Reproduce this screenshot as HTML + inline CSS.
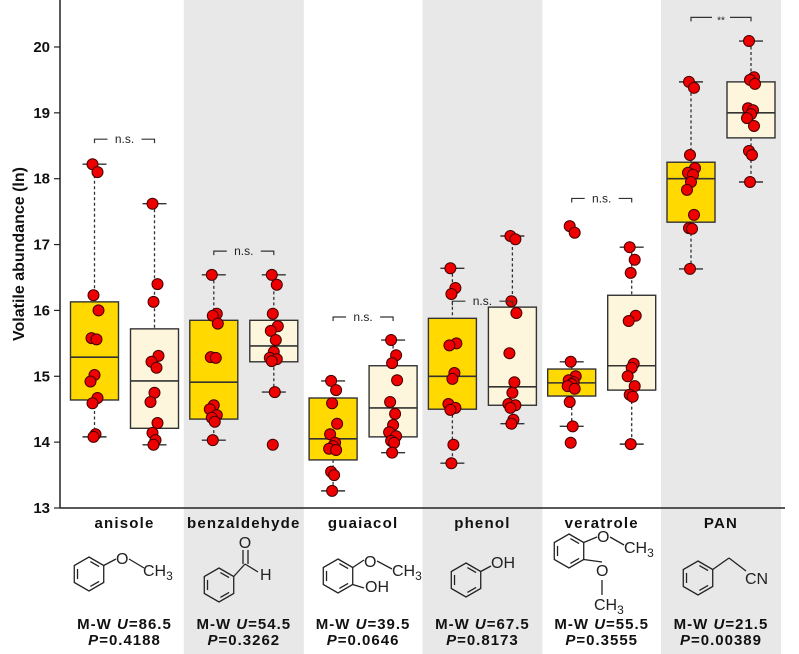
<!DOCTYPE html>
<html><head><meta charset="utf-8">
<style>
html,body{margin:0;padding:0;background:#fff;}
svg{display:block;font-family:"Liberation Sans",Arial,sans-serif;}
</style></head>
<body>
<svg id="chart" width="799" height="654" viewBox="0 0 799 654" xmlns="http://www.w3.org/2000/svg">
<g id="bands"></g>
<g id="structs"></g>
<g id="plot"></g>
</svg>
<script>
const categories = ["anisole","benzaldehyde","guaiacol","phenol","veratrole","PAN"];
const yTicks = [13,14,15,16,17,18,19,20];
// box stats per group: [whiskerLow, q1, median, q3, whiskerHigh]
const statsA = [
 [14.08,14.64,15.29,16.13,18.22],
 [14.03,14.35,14.91,15.85,16.54],
 [13.26,13.73,14.05,14.67,14.93],
 [13.68,14.50,15.00,15.88,16.64],
 [14.24,14.70,14.90,15.11,15.22],
 [16.63,17.34,18.00,18.25,19.47]
];
const statsB = [
 [13.96,14.21,14.93,15.72,17.62],
 [14.76,15.22,15.46,15.85,16.54],
 [13.84,14.08,14.52,15.16,15.55],
 [14.28,14.56,14.84,16.05,17.13],
 [13.97,14.79,15.16,16.23,16.96],
 [17.95,18.62,19.00,19.47,20.09]
];
const pointsA = [
 [18.22,18.1,16.23,16.0,15.58,15.56,15.02,14.92,14.67,14.59,14.12,14.08],
 [16.54,15.95,15.92,15.8,15.29,15.28,14.56,14.5,14.41,14.37,14.31,14.03],
 [14.93,14.79,14.59,14.28,14.12,13.99,13.94,13.9,13.88,13.55,13.5,13.26],
 [16.64,16.34,16.25,15.5,15.47,15.05,14.96,14.58,14.52,14.49,13.96,13.68],
 [17.28,17.18,15.22,15.0,14.94,14.91,14.88,14.85,14.81,14.61,14.24,13.99],
 [19.47,19.38,18.36,18.16,18.09,18.06,17.95,17.83,17.45,17.25,17.24,16.63]
];
const pointsB = [
 [17.62,16.4,16.13,15.31,15.22,15.13,14.75,14.61,14.29,14.14,14.03,13.96],
 [16.54,16.39,15.95,15.76,15.69,15.55,15.37,15.28,15.26,15.23,14.76,13.96],
 [15.55,15.32,15.2,14.94,14.61,14.43,14.26,14.15,14.09,14.02,13.99,13.84],
 [17.13,17.08,16.14,15.96,15.35,14.91,14.75,14.58,14.56,14.52,14.34,14.28],
 [16.96,16.77,16.57,15.92,15.84,15.19,15.13,15.0,14.85,14.72,14.69,13.97],
 [20.09,19.54,19.5,19.44,19.07,19.04,18.98,18.92,18.8,18.42,18.36,17.95]
];
const sigLabels = ["n.s.","n.s.","n.s.","n.s.","n.s.","**"];
const sigLevels = [18.6,16.9,15.9,16.14,17.7,20.45];
const uValues = ["86.5","54.5","39.5","67.5","55.5","21.5"];
const pValues = ["0.4188","0.3262","0.0646","0.8173","0.3555","0.00389"];

const NS="http://www.w3.org/2000/svg";
function mk(tag,attrs,parent){const e=document.createElementNS(NS,tag);for(const k in attrs)e.setAttribute(k,attrs[k]);parent.appendChild(e);return e;}
const y=v=>508-(v-13)*65.86;
const gw=119.3;
const cx=i=>124.5+i*gw;
const bands=document.getElementById('bands');
const plot=document.getElementById('plot');
const structs=document.getElementById('structs');

categories.forEach((c,i)=>{ if(i%2===1){
  const r=mk('rect',{x:cx(i)-60,y:0,width:120,height:654,fill:'#e8e8e8'},bands);
  
  
}});

const ya=mk('line',{x1:60,y1:0,x2:60,y2:508,stroke:'#222','stroke-width':1.5},plot);


const xa=mk('line',{x1:60,y1:508,x2:785,y2:508,stroke:'#222','stroke-width':1.5},plot);


yTicks.forEach(t=>{
  mk('line',{x1:54,y1:y(t),x2:60,y2:y(t),stroke:'#222','stroke-width':1.2},plot);
  const tx=mk('text',{x:50,y:y(t)+5,'text-anchor':'end','font-size':15,'font-weight':'bold',fill:'#111'},plot);
  tx.textContent=t;
  
  
});
const yt=mk('text',{x:0,y:0,transform:'translate(24,254) rotate(-90)','text-anchor':'middle','font-size':16,'font-weight':'bold',fill:'#111'},plot);
yt.textContent='Volatile abundance (ln)';



const jit=[-2,3,-1,4,-3,2,0,-4,3,-2,1,-1];
function drawBox(x,s,pts,fill,name){
  const g=mk('g',{},plot);
  
  
  mk('line',{x1:x,y1:y(s[4]),x2:x,y2:y(s[3]),stroke:'#333','stroke-width':1.3,'stroke-dasharray':'3,2.5'},g);
  mk('line',{x1:x,y1:y(s[1]),x2:x,y2:y(s[0]),stroke:'#333','stroke-width':1.3,'stroke-dasharray':'3,2.5'},g);
  mk('line',{x1:x-12,y1:y(s[4]),x2:x+12,y2:y(s[4]),stroke:'#333','stroke-width':1.4},g);
  mk('line',{x1:x-12,y1:y(s[0]),x2:x+12,y2:y(s[0]),stroke:'#333','stroke-width':1.4},g);
  mk('rect',{x:x-24,y:y(s[3]),width:48,height:y(s[1])-y(s[3]),fill:fill,stroke:'#333','stroke-width':1.4},g);
  mk('line',{x1:x-24,y1:y(s[2]),x2:x+24,y2:y(s[2]),stroke:'#333','stroke-width':1.6},g);
  pts.forEach((v,k)=>{
    const c=mk('circle',{cx:x+jit[k%jit.length],cy:y(v),r:5.5,fill:'#ee0000',stroke:'#400','stroke-width':1},g);
    
    
  });
}
categories.forEach((c,i)=>{
  const xa_=cx(i)-30, xb=cx(i)+30;
  drawBox(xa_,statsA[i],pointsA[i],'#ffd900',c+'-box-a');
  drawBox(xb,statsB[i],pointsB[i],'#fdf6dc',c+'-box-b');
  const sy=y(sigLevels[i]);
  const g=mk('g',{},plot);
  
  
  const small=sigLabels[i]==='**';
  const half=small?9:17;
  mk('path',{d:`M${xa_},${sy+4}V${sy}H${cx(i)-half}M${cx(i)+half},${sy}H${xb}V${sy+4}`,fill:'none',stroke:'#333','stroke-width':1.2},g);
  const t=mk('text',{x:cx(i),y:sy+(small?6:4),'text-anchor':'middle','font-size':small?10:12,fill:'#222'},g);
  t.textContent=sigLabels[i];
  const lb=mk('text',{x:cx(i),y:528,'text-anchor':'middle','font-size':15,'font-weight':'bold','letter-spacing':1.2,fill:'#111'},plot);
  lb.textContent=c;
  
  
  const m1=mk('text',{x:cx(i),y:629,'text-anchor':'middle','font-size':15,'font-weight':'bold','letter-spacing':1,fill:'#111'},plot);
  m1.innerHTML='M-W <tspan font-style="italic">U</tspan>='+uValues[i];
  
  
  const m2=mk('text',{x:cx(i),y:645,'text-anchor':'middle','font-size':15,'font-weight':'bold','letter-spacing':1,fill:'#111'},plot);
  m2.innerHTML='<tspan font-style="italic">P</tspan>='+pValues[i];
  
  
});

function ring(cx0,cy0,name){
  const g=mk('g',{stroke:'#222','stroke-width':1.3,fill:'none'},structs);
  
  
  const r=17,v=[];
  for(let k=0;k<6;k++){const a=(-90+60*k)*Math.PI/180;v.push([cx0+r*Math.cos(a),cy0+r*Math.sin(a)]);}
  mk('polygon',{points:v.map(p=>p.join(',')).join(' ')},g);
  [0,2,4].forEach(k=>{const a=v[k],b=v[(k+1)%6];const s=0.78;
    const ax=cx0+(a[0]-cx0)*s,ay=cy0+(a[1]-cy0)*s,bx=cx0+(b[0]-cx0)*s,by=cy0+(b[1]-cy0)*s;
    mk('line',{x1:ax+(bx-ax)*0.12,y1:ay+(by-ay)*0.12,x2:bx-(bx-ax)*0.12,y2:by-(by-ay)*0.12},g);});
  return {g,v};
}
function ln(g,x1,y1,x2,y2){mk('line',{x1,y1,x2,y2},g);}
function tx(g,x,y0,s,anchor){const t=mk('text',{x,y:y0,'font-size':16,fill:'#222',stroke:'none','text-anchor':anchor||'start'},g);t.innerHTML=s;return t;}
const sub='<tspan font-size="12" dy="4">3</tspan>';
let R;
R=ring(89,574,'anisole-structure'); ln(R.g,R.v[1][0],R.v[1][1],116,559); tx(R.g,116,564,'O'); ln(R.g,129,559,144,568); tx(R.g,143,576,'CH'+sub);
R=ring(219,585,'benzaldehyde-structure'); ln(R.g,R.v[1][0],R.v[1][1],245,564); ln(R.g,243,564,243,550); ln(R.g,248,564,248,550); tx(R.g,245,548,'O','middle'); ln(R.g,245,564,258,572); tx(R.g,260,580,'H');
R=ring(338,576,'guaiacol-structure'); ln(R.g,R.v[1][0],R.v[1][1],364,560); tx(R.g,364,567,'O'); ln(R.g,377,561,392,569); tx(R.g,392,576,'CH'+sub); ln(R.g,R.v[2][0],R.v[2][1],364,588); tx(R.g,365,592,'OH');
R=ring(466,580,'phenol-structure'); ln(R.g,R.v[1][0],R.v[1][1],491,566); tx(R.g,491,568,'OH');
R=ring(569,551,'veratrole-structure'); ln(R.g,R.v[1][0],R.v[1][1],597,537); tx(R.g,597,542,'O'); ln(R.g,610,537,624,545); tx(R.g,624,553,'CH'+sub); ln(R.g,R.v[2][0],R.v[2][1],602,562); tx(R.g,596,576,'O'); ln(R.g,602,580,602,595); tx(R.g,594,610,'CH'+sub);
R=ring(698,578,'pan-structure'); ln(R.g,R.v[1][0],R.v[1][1],729,558); ln(R.g,729,558,746,571); tx(R.g,745,584,'CN');
</script>
</body></html>
